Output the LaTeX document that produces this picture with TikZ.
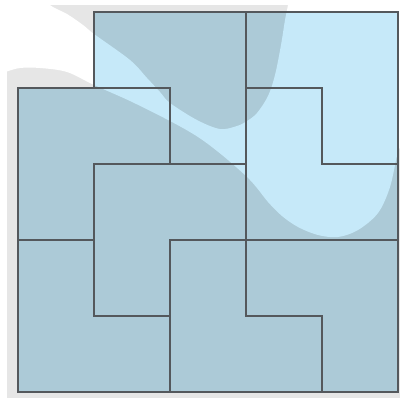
\documentclass[tikz,border=0pt]{standalone}
\definecolor{shadowgray}{RGB}{230, 230, 230}
\definecolor{tiledark}{RGB}{172, 202, 215}
\definecolor{tilelight}{RGB}{198, 233, 249}
\definecolor{tileedge}{RGB}{84, 88, 92}
\usepackage{tikz}
\usetikzlibrary{calc}

% light patch, in pixel units
\newcommand{\shinepath}{(-10,-10) -- plot[smooth, tension=0.55] coordinates {(42,-8) (50,5) (67,14) (83,25) (94,34) (130,60) (147,78) (160,92) (170,103) (197,120) (220,129) (237,126) (247,121) (257,113) (268,96) (275,75) (281,45) (285,20) (288,5) (290,-8)} -- (420,-10) -- (420,135) -- plot[smooth, tension=0.55] coordinates {(405,140) (398,152) (390,187) (378,213) (358,230) (338,237) (318,235) (298,227) (282,216) (268,202) (257,188) (246,176) (222,155) (198,137) (170,121) (130,101) (94,85) (67,72) (40,68) (20,68) (5,72) (-10,76)} -- cycle}

\begin{document}
\begin{tikzpicture}[
    x=0.0265cm, y=-0.0265cm,
    piece/.style={draw=tileedge, line width=1.5pt, line join=miter},
    board/.style={fill=tiledark}
]
    \useasboundingbox (0,0) rectangle (401,398);

    % grid points p<col><row>
    \begin{scope}[shift={(17.6,11.8)}, scale=76]
        \foreach \i in {0,...,5}
            \foreach \j in {0,...,5}
                \coordinate (p\i\j) at (\i,\j);
    \end{scope}

    \fill[shadowgray] (7,5) rectangle (400,398);
    \fill[white] \shinepath;

    \fill[board] (p10) -- (p50) -- (p55) -- (p05) -- (p01) -- (p11) -- cycle;
    \begin{scope}
        \clip (p10) -- (p50) -- (p55) -- (p05) -- (p01) -- (p11) -- cycle;
        \fill[tilelight] \shinepath;
    \end{scope}

    % the eight L pieces
    \draw[piece] (p10) -- (p30) -- (p32) -- (p22) -- (p21) -- (p11) -- cycle;
    \draw[piece] (p01) -- (p21) -- (p22) -- (p12) -- (p13) -- (p03) -- cycle;
    \draw[piece] (p12) -- (p32) -- (p33) -- (p23) -- (p24) -- (p14) -- cycle;
    \draw[piece] (p03) -- (p13) -- (p14) -- (p24) -- (p25) -- (p05) -- cycle;
    \draw[piece] (p30) -- (p50) -- (p52) -- (p42) -- (p41) -- (p31) -- cycle;
    \draw[piece] (p31) -- (p41) -- (p42) -- (p52) -- (p53) -- (p33) -- cycle;
    \draw[piece] (p23) -- (p33) -- (p34) -- (p44) -- (p45) -- (p25) -- cycle;
    \draw[piece] (p33) -- (p53) -- (p55) -- (p45) -- (p44) -- (p34) -- cycle;
\end{tikzpicture}
\end{document}
